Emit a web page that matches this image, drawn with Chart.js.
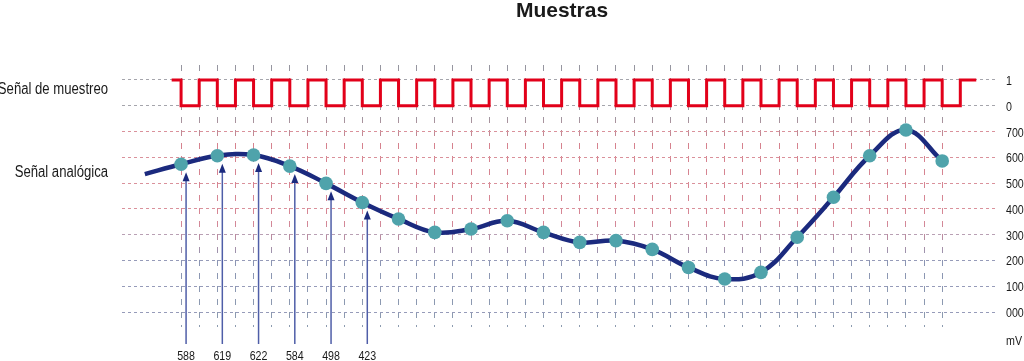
<!DOCTYPE html>
<html>
<head>
<meta charset="utf-8">
<title>Muestras</title>
<script src="https://cdn.jsdelivr.net/npm/chart.js@4.4.0/dist/chart.umd.min.js"></script>
<style>
    html, body { margin: 0; padding: 0; background: #fff; }
    #wrap { width: 1024px; height: 361px; }
</style>
</head>
<body>
<div id="wrap"><canvas id="muestras-chart" width="1024" height="361"></canvas></div>
<script>
// sampled analog signal (mV), one value per clock period
const sampleValues = [573, 606, 609, 566, 499, 425, 361, 309, 322, 354, 309, 270, 277, 243, 173, 128, 154, 290, 445, 606, 706, 586];
// the analog curve starts one period before the first sample
const curveLeadValue = 535;

// labels under the first arrows
const arrowLabels = ['588', '619', '622', '584', '498', '423'];

// clock level for each half period, starting at the first sample
const clockLevels = [0, 1, 0, 1, 0, 1, 0, 1, 0, 1, 0, 1, 0, 1, 0, 1, 0, 1, 0, 1, 0, 1,
                     0, 1, 0, 1, 0, 1, 0, 1, 0, 1, 0, 1, 0, 1, 0, 1, 0, 1, 0, 1, 0, 1];
const clockLeadLevel = 1;
const clockStart = -0.26;
const clockEnd = 21.94;

// right axis: positions and texts
const yTickValues = [0, 100, 200, 300, 400, 500, 600, 700, 800, 900];
const yTickLabels = ['000', '100', '200', '300', '400', '500', '600', '700', '0', '1'];
const clockHigh = 900;
const clockLow = 800;

const FONT = "'Liberation Sans', Arial, sans-serif";
const TEXT_COLOR = '#1a1a1a';
const NAVY = '#1b2a7e';

const curveData = [{ x: -1, y: curveLeadValue }]
    .concat(sampleValues.map((v, i) => ({ x: i, y: v })));

const clockData = [{ x: clockStart, y: clockLeadLevel ? clockHigh : clockLow }]
    .concat(clockLevels.map((lv, k) => ({ x: k / 2, y: lv ? clockHigh : clockLow })))
    .concat([{ x: clockEnd, y: clockLevels[clockLevels.length - 1] ? clockHigh : clockLow }]);

let vGradient = null;
function verticalGridColor(chart) {
    const area = chart.chartArea;
    if (!area) return '#aab';
    if (!vGradient) {
        const g = chart.ctx.createLinearGradient(0, area.top, 0, area.bottom);
        g.addColorStop(0, 'rgb(150,150,160)');
        g.addColorStop(0.2, 'rgb(160,150,160)');
        g.addColorStop(0.3, 'rgb(214,130,142)');
        g.addColorStop(0.6, 'rgb(214,135,150)');
        g.addColorStop(0.75, 'rgb(140,150,180)');
        g.addColorStop(1, 'rgb(140,155,175)');
        vGradient = g;
    }
    return vGradient;
}

function horizontalGridColor(value) {
    if (value >= 800) return 'rgb(165,165,172)';
    if (value >= 400) return 'rgb(218,145,155)';
    if (value >= 300) return 'rgb(185,160,180)';
    return 'rgb(150,155,185)';
}

// no narrow face is installed, so squeeze the regular one
function drawNarrow(ctx, text, x, y, size, align, weight) {
    ctx.save();
    ctx.translate(x, y);
    ctx.scale(0.82, 1);
    ctx.font = (weight || 'normal') + ' ' + size + 'px ' + FONT;
    ctx.textAlign = align;
    ctx.textBaseline = 'alphabetic';
    ctx.fillStyle = TEXT_COLOR;
    ctx.fillText(text, 0, 0);
    ctx.restore();
}

const textPlugin = {
    id: 'muestrasText',
    beforeDatasetsDraw(chart) {
        const ctx = chart.ctx;
        const xs = chart.scales.x;
        const ys = chart.scales.y;
        ctx.save();
        // arrows from the bottom up to the first samples
        arrowLabels.forEach((label, i) => {
            const x = xs.getPixelForValue(i) + 5;
            const tip = ys.getPixelForValue(sampleValues[i]) + 8;
            const bottom = ys.bottom + 17;
            ctx.strokeStyle = '#4f5ea8';
            ctx.lineWidth = 1.5;
            ctx.beginPath();
            ctx.moveTo(x, tip + 8);
            ctx.lineTo(x, bottom);
            ctx.stroke();
            ctx.fillStyle = NAVY;
            ctx.beginPath();
            ctx.moveTo(x, tip);
            ctx.lineTo(x - 3.5, tip + 9);
            ctx.lineTo(x + 3.5, tip + 9);
            ctx.closePath();
            ctx.fill();

            drawNarrow(ctx, label, x, 360, 13, 'center');
        });
        ctx.restore();
    },
    afterDraw(chart) {
        const ctx = chart.ctx;
        const area = chart.chartArea;
        const ys = chart.scales.y;

        ctx.save();
        ctx.fillStyle = TEXT_COLOR;
        ctx.textBaseline = 'alphabetic';
        ctx.font = 'bold 21px ' + FONT;
        ctx.textAlign = 'center';
        ctx.fillText('Muestras', (area.left + area.right) / 2 + 2, 17);
        ctx.restore();

        drawNarrow(ctx, 'Señal de muestreo', 108, 94, 16, 'right');
        drawNarrow(ctx, 'Señal analógica', 108, 177, 16, 'right');

        // right axis labels
        yTickValues.forEach((v, i) => {
            drawNarrow(ctx, yTickLabels[i], area.right + 8, ys.getPixelForValue(v) + 5, 13, 'left');
        });
        drawNarrow(ctx, 'mV', area.right + 8, 345, 13, 'left');
    }
};

new Chart(document.getElementById('muestras-chart'), {
    type: 'line',
    data: {
        datasets: [
            {
                label: 'Señal analógica',
                data: curveData,
                borderColor: NAVY,
                borderWidth: 4.5,
                tension: 0.4,
                pointRadius: (c) => c.dataIndex === 0 ? 0 : 6.8,
                pointBackgroundColor: '#4fa3ab',
                pointBorderWidth: 0,
                pointHoverRadius: 6.8
            },
            {
                label: 'Señal de muestreo',
                data: clockData,
                borderColor: '#e2001a',
                borderWidth: 3,
                stepped: true,
                pointRadius: 0,
                borderJoinStyle: 'miter'
            }
        ]
    },
    options: {
        responsive: false,
        animation: false,
        devicePixelRatio: 1,
        layout: {
            padding: { left: 122, top: 65, right: 26, bottom: 34 }
        },
        plugins: {
            legend: { display: false },
            title: { display: false },
            tooltip: { enabled: false }
        },
        scales: {
            x: {
                type: 'linear',
                min: -1.63,
                max: 22.54,
                afterBuildTicks(axis) {
                    const ticks = [];
                    for (let k = 0; k <= 2 * (sampleValues.length - 1); k++) {
                        ticks.push({ value: k / 2 });
                    }
                    axis.ticks = ticks;
                },
                ticks: { display: false },
                grid: {
                    drawTicks: false,
                    lineWidth: 1,
                    color: (c) => verticalGridColor(c.chart)
                },
                border: { display: false, dash: [6, 7] }
            },
            y: {
                position: 'right',
                min: -58,
                max: 958,
                afterBuildTicks(axis) {
                    axis.ticks = yTickValues.map(v => ({ value: v }));
                },
                ticks: { display: false },
                grid: {
                    drawTicks: false,
                    lineWidth: 1,
                    color: (c) => horizontalGridColor(c.tick ? c.tick.value : 0)
                },
                border: { display: false, dash: [3, 3] }
            }
        }
    },
    plugins: [textPlugin]
});
</script>
</body>
</html>
